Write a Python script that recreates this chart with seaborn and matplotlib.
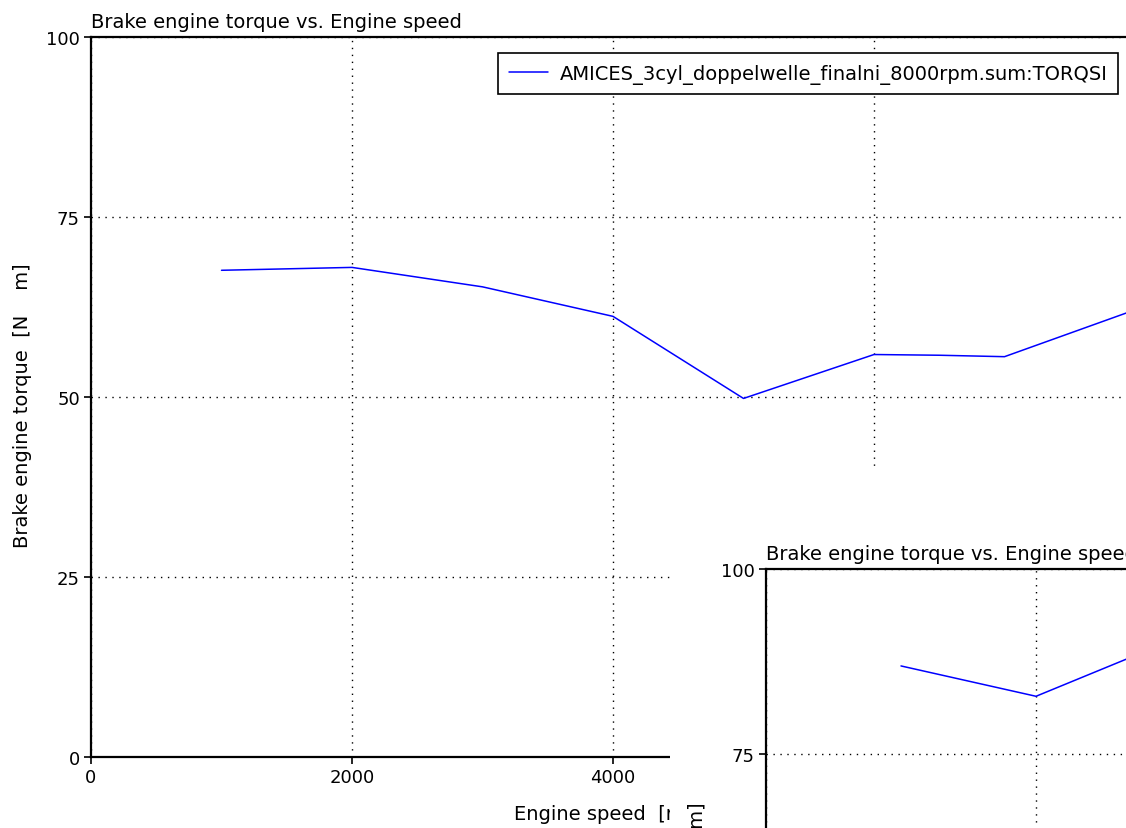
import matplotlib
matplotlib.use("Agg")
import matplotlib.pyplot as plt
from matplotlib.patches import Rectangle
import pandas as pd
import seaborn as sns

# main chart data
speed = [1000, 1500, 2000, 3000, 4000, 5000, 6000, 6500, 7000, 8000]
torque = [67.6, 67.8, 68.0, 65.3, 61.2, 49.8, 55.9, 55.8, 55.6, 62.1]

# second (overlapping) chart window
inset_speed = [1000, 2000, 3000]
inset_torque = [86.9, 82.8, 90.3]

series_name = "AMICES_3cyl_doppelwelle_finalni_8000rpm.sum:TORQSI"
title = "Brake engine torque vs. Engine speed"
xlabel = "Engine speed  [rpm]"
ylabel = "Brake engine torque  [N    m]"
xticks = [0, 2000, 4000, 6000, 8000]
yticks = [0, 25, 50, 75, 100]

sns.set_theme(style="ticks")
plt.rcParams["font.family"] = ["DejaVu Sans"]
plt.rcParams["text.color"] = "black"

W, H = 1126, 829
fig = plt.figure(figsize=(W / 100, H / 100), dpi=100)
fig.patch.set_facecolor("white")


def style_axes(ax):
    ax.set_xlim(0, 8000)
    ax.set_ylim(0, 100)
    ax.set_xticks(xticks)
    ax.set_yticks(yticks)
    ax.grid(True, color="black", linestyle=(0, (1, 4)), linewidth=1.0)
    for side in ["left", "top", "bottom", "right"]:
        ax.spines[side].set_color("black")
        ax.spines[side].set_linewidth(1.6)
    ax.tick_params(direction="out", length=5, width=1.2, colors="black",
                   labelsize=13, pad=3)
    ax.set_title(title, loc="left", fontsize=14, pad=7, color="black")
    ax.set_xlabel(xlabel, fontsize=14, color="black")
    ax.set_ylabel(ylabel, fontsize=14, color="black")
    ax.set_facecolor("white")


# main chart
ax = fig.add_axes([91 / W, (H - 758) / H, (1135 - 91) / W, (758 - 38) / H])
df = pd.DataFrame({"speed": speed, "torque": torque})
sns.lineplot(data=df, x="speed", y="torque", ax=ax, color="#0000ff",
             linewidth=1.1, label=series_name)
style_axes(ax)
ax.yaxis.set_label_coords(-0.0565, 0.489)
ax.xaxis.labelpad = 13
leg = ax.legend(loc="upper right", bbox_to_anchor=(1118 / W, 1 - 54 / H),
                bbox_transform=fig.transFigure, borderaxespad=0,
                frameon=True, fancybox=False, fontsize=14, handlelength=2.0,
                handletextpad=0.6, borderpad=0.55)
leg.get_frame().set_edgecolor("black")
leg.get_frame().set_linewidth(1.2)
leg.get_frame().set_alpha(1)
for t in leg.get_texts():
    t.set_color("black")
ax.set_zorder(0)

# white window of the second chart lying on top
cover = Rectangle((670 / W, 0), 1 - 670 / W, (H - 472) / H,
                  transform=fig.transFigure, facecolor="white",
                  edgecolor="none", zorder=1)
fig.add_artist(cover)

# second chart, mostly outside the visible area
ax2 = fig.add_axes([766 / W, (H - 570 - 740) / H, 1080 / W, 740 / H])
df2 = pd.DataFrame({"speed": inset_speed, "torque": inset_torque})
sns.lineplot(data=df2, x="speed", y="torque", ax=ax2, color="#0000ff",
             linewidth=1.1)
style_axes(ax2)
ax2.yaxis.set_label_coords(-0.0546, 0.493)
ax2.set_zorder(2)

fig.savefig("out.png", dpi=100)
